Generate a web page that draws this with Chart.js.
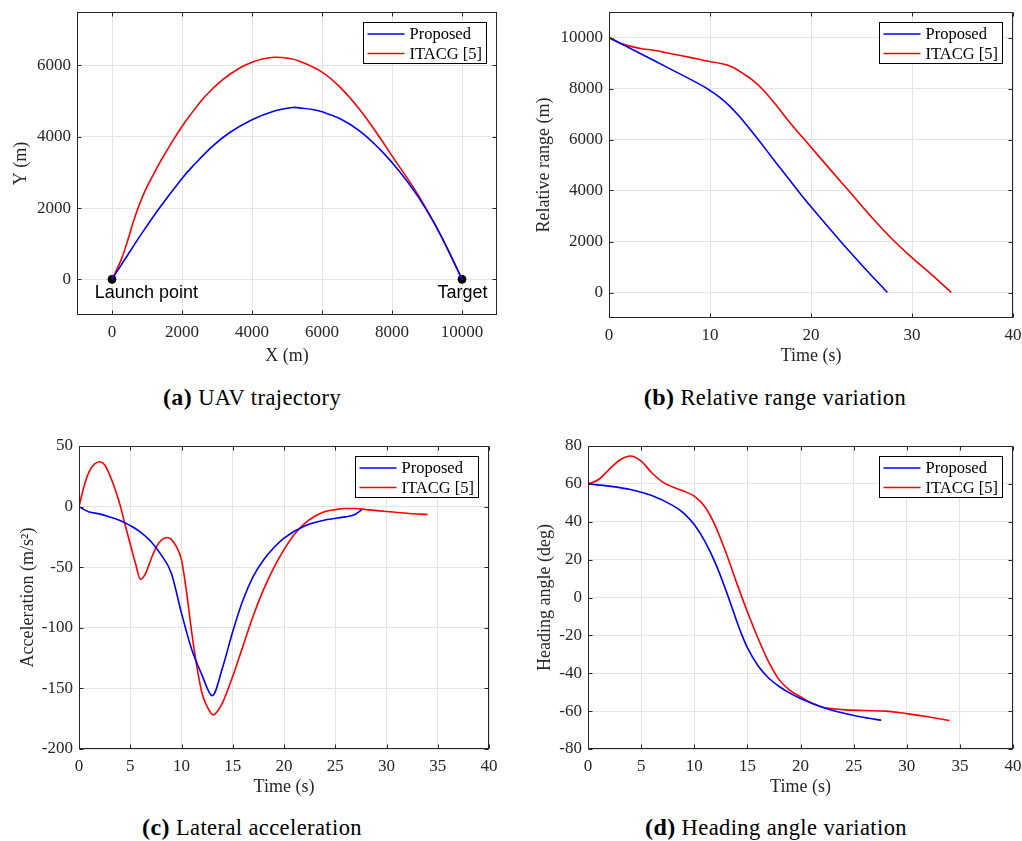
<!DOCTYPE html>
<html>
<head>
<meta charset="utf-8">
<title>UAV guidance comparison</title>
<script src="https://cdn.jsdelivr.net/npm/chart.js@4.4.0/dist/chart.umd.min.js"></script>
<style>
    body { margin: 0; background: #fff; width: 1022px; height: 841px; position: relative; overflow: hidden; }
    canvas { position: absolute; }
    .cap {
        position: absolute;
        font-family: 'Liberation Serif', serif;
        font-size: 22.5px;
        letter-spacing: 0.4px;
        color: #000;
        white-space: nowrap;
        line-height: 1;
        transform: translate(-50%, -50%);
    }
    .cap b { font-size: 24px; }
</style>
</head>
<body>
<canvas id="chartA" width="511" height="367" style="left:0;top:0"></canvas>
<canvas id="chartB" width="511" height="367" style="left:511px;top:0"></canvas>
<canvas id="chartC" width="511" height="378" style="left:0;top:420px"></canvas>
<canvas id="chartD" width="511" height="378" style="left:511px;top:420px"></canvas>

<div class="cap" style="left:252px;top:397px"><b>(a)</b> UAV trajectory</div>
<div class="cap" style="left:775px;top:397px"><b>(b)</b> Relative range variation</div>
<div class="cap" style="left:252px;top:827px"><b>(c)</b> Lateral acceleration</div>
<div class="cap" style="left:776px;top:827px"><b>(d)</b> Heading angle variation</div>

<script>
// ---- data ----
const seriesNames = ['Proposed', 'ITACG [5]'];

// (a) trajectory
const aPropX  = [0, 402, 785, 1340, 2000, 2322, 2891, 3365, 4000, 4597, 5166, 5359, 5735, 6000, 6507, 7081, 7656, 8000, 8421, 8756, 9187, 9569, 10000];
const aPropY  = [0, 614, 1191, 1981, 2830, 3190, 3750, 4120, 4477, 4710, 4822, 4810, 4765, 4700, 4510, 4157, 3648, 3278, 2769, 2306, 1610, 890, 0];
const aItacgX = [0, 258, 450, 593, 737, 928, 1167, 1381, 1743, 2000, 2219, 2695, 3171, 3648, 4000, 4300, 4648, 5076, 5359, 6000, 6507, 7081, 7656, 8000, 8421, 8756, 9187, 9569, 10000];
const aItacgY = [0, 540, 1098, 1563, 1981, 2447, 2912, 3300, 3900, 4290, 4590, 5170, 5610, 5930, 6090, 6180, 6230, 6195, 6120, 5815, 5400, 4759, 3972, 3463, 2861, 2352, 1610, 890, 0];
const aMarkX  = [0, 10000];
const aMarkY  = [0, 0];
const aNotes  = ['Launch point', 'Target'];
const aNoteX  = [-490, 9300];
const aNoteY  = [-385, -385];

// (b) relative range
const bPropT  = [0, 3, 6, 9, 10, 11, 12, 13, 14, 15, 16.5, 18.65, 20, 22.94, 25, 27.56];
const bPropR  = [10000, 9390, 8780, 8160, 7920, 7640, 7290, 6860, 6380, 5880, 5110, 4020, 3360, 2000, 1090, 0];
const bItacgT = [0, 1.3, 3, 4.6, 6.2, 7.9, 9.5, 11.2, 12.2, 13.5, 14.3, 15.15, 16.5, 18, 20, 22, 24, 26, 28.2, 30, 32, 33.9];
const bItacgR = [10000, 9750, 9580, 9490, 9360, 9230, 9090, 8970, 8840, 8530, 8300, 7990, 7370, 6620, 5700, 4780, 3870, 2950, 2030, 1370, 680, 0];

// (c) lateral acceleration
const cPropT  = [0, 0.5, 1, 2, 3, 4, 5, 6, 7, 8, 9, 10, 11, 12, 13, 14, 15, 16, 17, 18, 19, 20, 22, 24, 26, 26.8, 27.6];
const cPropA  = [0, -2.5, -4.4, -6, -8.5, -11.5, -15.7, -21, -28.6, -39.6, -54.7, -88, -118, -139, -156, -133, -103, -77, -57.5, -44, -34, -26, -16, -11, -8.5, -7, -2.5];
const cItacgT = [0, 0.5, 1, 1.5, 2, 2.5, 3, 3.5, 4, 4.5, 5, 5.5, 6, 6.5, 7, 7.5, 8, 8.6, 9, 9.5, 10, 10.5, 11, 11.5, 12, 12.5, 13.1, 13.5, 14, 15, 16, 17, 18, 19, 20, 21, 22, 23, 24, 25, 26, 27, 28, 30, 32, 34];
const cItacgA = [0, 17, 29, 35, 37, 34.6, 26, 15, 1.6, -15, -31, -46.5, -60, -55, -44, -34, -28, -25.5, -27, -33, -44, -71, -104, -132, -154, -165, -172, -169, -162, -140, -115, -90, -68.5, -50.5, -35.5, -23, -14, -8, -4, -2.5, -1.6, -1.6, -2.5, -4, -5.5, -6.6];

// (d) heading angle
const dPropT  = [0, 2, 4, 6, 8, 9, 10, 11, 12, 13, 14, 14.5, 15, 16, 17, 18, 19, 20, 22, 24, 26, 27.6];
const dPropH  = [60, 58.8, 57, 53.8, 48.5, 44.6, 38.5, 29.6, 18, 3.5, -12.5, -20, -26.5, -36, -42.5, -47, -50.5, -53.3, -57.8, -61, -63.4, -64.8];
const dItacgT = [0, 1, 2, 3, 4, 5, 6, 7, 8, 9, 10, 11, 12, 13, 14, 15, 16, 17, 18, 19, 20, 21, 22, 24, 26, 28, 30, 32, 34];
const dItacgH = [60, 62.3, 67.7, 72.6, 74.7, 72, 65.9, 61.1, 58.3, 56.2, 53.5, 47.9, 37.6, 23.5, 7.6, -7.5, -21.5, -34, -43.5, -49, -52.4, -55.6, -57.8, -59.2, -59.7, -60, -61.3, -63, -65];

// ---- tick values ----
const aXTicks = [0, 2000, 4000, 6000, 8000, 10000];
const aYTicks = [0, 2000, 4000, 6000];
const bXTicks = [0, 10, 20, 30, 40];
const bYTicks = [0, 2000, 4000, 6000, 8000, 10000];
const cXTicks = [0, 5, 10, 15, 20, 25, 30, 35, 40];
const cYTicks = [-200, -150, -100, -50, 0, 50];
const dXTicks = [0, 5, 10, 15, 20, 25, 30, 35, 40];
const dYTicks = [-80, -60, -40, -20, 0, 20, 40, 60, 80];

const AXIS_COLOR = '#262626';
const GRID_COLOR = '#e4e4e4';
const SERIF = "'Liberation Serif', 'Times New Roman', serif";

const toPoints = (xs, ys) => xs.map((x, i) => ({ x, y: ys[i] }));

// smooth = true -> bezier smoothing (tension), otherwise monotone cubic
const curve = (label, xs, ys, color, smooth) => ({
    label,
    data: toPoints(xs, ys),
    borderColor: color,
    backgroundColor: color,
    borderWidth: 1.6,
    pointRadius: 0,
    fill: false,
    cubicInterpolationMode: smooth ? 'default' : 'monotone',
    tension: smooth ? 0.4 : 0,
    inLegend: true
});

// box round the plot area with MATLAB-style inward ticks
const axisFrame = {
    id: 'axisFrame',
    afterDatasetsDraw(chart) {
        const { ctx, chartArea: a, scales: { x, y } } = chart;
        const L = Math.round(a.left) + 0.5, R = Math.round(a.right) - 0.5;
        const T = Math.round(a.top) + 0.5, B = Math.round(a.bottom) - 0.5;
        ctx.save();
        ctx.strokeStyle = AXIS_COLOR;
        ctx.lineWidth = 1;
        ctx.strokeRect(L, T, R - L, B - T);
        ctx.beginPath();
        x.ticks.forEach(t => {
            const px = Math.round(x.getPixelForValue(t.value)) + 0.5;
            ctx.moveTo(px, B); ctx.lineTo(px, B - 4);
            ctx.moveTo(px, T); ctx.lineTo(px, T + 4);
        });
        y.ticks.forEach(t => {
            const py = Math.round(y.getPixelForValue(t.value)) + 0.5;
            ctx.moveTo(L, py); ctx.lineTo(L + 4, py);
            ctx.moveTo(R, py); ctx.lineTo(R - 4, py);
        });
        ctx.stroke();
        ctx.restore();
    }
};

// legend box in the upper right corner of the plot area
const boxLegend = {
    id: 'boxLegend',
    afterDraw(chart) {
        const { ctx, chartArea: a } = chart;
        const items = chart.data.datasets.filter(d => d.inLegend);
        const w = 123, h = 41;
        const left = Math.round(a.right - 11 - w) + 0.5, top = Math.round(a.top + 10) + 0.5;
        ctx.save();
        ctx.fillStyle = '#fff';
        ctx.fillRect(left, top, w, h);
        ctx.strokeStyle = '#000';
        ctx.lineWidth = 1;
        ctx.strokeRect(left, top, w, h);
        ctx.font = '16.5px ' + SERIF;
        ctx.textBaseline = 'middle';
        ctx.textAlign = 'left';
        items.forEach((d, i) => {
            const cy = top + 11.5 + i * 19.5;
            ctx.strokeStyle = d.borderColor;
            ctx.lineWidth = 1.6;
            ctx.beginPath();
            ctx.moveTo(left + 4, cy);
            ctx.lineTo(left + 41, cy);
            ctx.stroke();
            ctx.fillStyle = '#000';
            ctx.fillText(d.label, left + 46, cy + 1);
        });
        ctx.restore();
    }
};

// text placed in data coordinates
const dataNotes = {
    id: 'dataNotes',
    afterDatasetsDraw(chart, args, opts) {
        if (!opts.text) return;
        const { ctx, scales: { x, y } } = chart;
        ctx.save();
        ctx.font = "18px 'Liberation Sans', Arial, sans-serif";
        ctx.fillStyle = '#000';
        ctx.textAlign = 'left';
        ctx.textBaseline = 'middle';
        opts.text.forEach((t, i) => {
            ctx.fillText(t, x.getPixelForValue(opts.x[i]), y.getPixelForValue(opts.y[i]));
        });
        ctx.restore();
    }
};

function makeChart(id, cfg) {
    const tickFont = { family: SERIF, size: 17 };
    const titleFont = { family: SERIF, size: 18 };
    return new Chart(document.getElementById(id), {
        type: 'line',
        data: { datasets: cfg.datasets },
        plugins: [axisFrame, boxLegend, dataNotes],
        options: {
            responsive: false,
            animation: false,
            events: [],
            layout: { padding: cfg.padding },
            plugins: {
                legend: { display: false },
                tooltip: { enabled: false },
                dataNotes: cfg.notes || {}
            },
            scales: {
                x: {
                    type: 'linear',
                    min: cfg.xMin, max: cfg.xMax,
                    afterBuildTicks: s => { s.ticks = cfg.xTicks.map(v => ({ value: v })); },
                    afterFit: s => { s.height = cfg.xHeight; s.paddingLeft = 0; s.paddingRight = 0; },
                    grid: { color: GRID_COLOR, drawTicks: false },
                    border: { display: false },
                    ticks: { padding: 7, autoSkip: false, maxRotation: 0, color: AXIS_COLOR, font: tickFont, callback: v => String(v) },
                    title: { display: true, text: cfg.xTitle, color: AXIS_COLOR, font: titleFont, padding: 0 }
                },
                y: {
                    type: 'linear',
                    min: cfg.yMin, max: cfg.yMax,
                    afterBuildTicks: s => { s.ticks = cfg.yTicks.map(v => ({ value: v })); },
                    afterFit: s => { s.width = cfg.yWidth; s.paddingTop = 0; s.paddingBottom = 0; },
                    grid: { color: GRID_COLOR, drawTicks: false },
                    border: { display: false },
                    ticks: { padding: 6, autoSkip: false, color: AXIS_COLOR, font: tickFont, callback: v => String(v) },
                    title: { display: true, text: cfg.yTitle, color: AXIS_COLOR, font: titleFont, padding: 0 }
                }
            }
        }
    });
}

makeChart('chartA', {
    datasets: [
        curve(seriesNames[0], aPropX, aPropY, '#0000ff', true),
        curve(seriesNames[1], aItacgX, aItacgY, '#ff0000', true),
        {
            label: 'points',
            data: toPoints(aMarkX, aMarkY),
            showLine: false,
            pointRadius: 4,
            pointBackgroundColor: '#000',
            pointBorderColor: '#000'
        }
    ],
    notes: { text: aNotes, x: aNoteX, y: aNoteY },
    padding: { left: 10, top: 12, right: 14, bottom: 0 },
    xMin: -1000, xMax: 11000, yMin: -1000, yMax: 7500,
    xTicks: aXTicks, yTicks: aYTicks,
    xHeight: 52, yWidth: 67,
    xTitle: 'X (m)', yTitle: 'Y (m)'
});

makeChart('chartB', {
    datasets: [
        curve(seriesNames[0], bPropT, bPropR, '#0000ff', true),
        curve(seriesNames[1], bItacgT, bItacgR, '#ff0000', true)
    ],
    padding: { left: 22, top: 12, right: 9, bottom: 0 },
    xMin: 0, xMax: 40, yMin: -1000, yMax: 11000,
    xTicks: bXTicks, yTicks: bYTicks,
    xHeight: 49, yWidth: 76,
    xTitle: 'Time (s)', yTitle: 'Relative range (m)'
});

makeChart('chartC', {
    datasets: [
        curve(seriesNames[0], cPropT, cPropA, '#0000ff', false),
        curve(seriesNames[1], cItacgT, cItacgA, '#ff0000', false)
    ],
    padding: { left: 17, top: 26, right: 22, bottom: 0 },
    xMin: 0, xMax: 40, yMin: -200, yMax: 50,
    xTicks: cXTicks, yTicks: cYTicks,
    xHeight: 49, yWidth: 62,
    xTitle: 'Time (s)', yTitle: 'Acceleration (m/s\u00B2)'
});

makeChart('chartD', {
    datasets: [
        curve(seriesNames[0], dPropT, dPropH, '#0000ff', false),
        curve(seriesNames[1], dItacgT, dItacgH, '#ff0000', false)
    ],
    padding: { left: 23, top: 26, right: 9, bottom: 0 },
    xMin: 0, xMax: 40, yMin: -80, yMax: 80,
    xTicks: dXTicks, yTicks: dYTicks,
    xHeight: 49, yWidth: 54,
    xTitle: 'Time (s)', yTitle: 'Heading angle (deg)'
});
</script>
</body>
</html>
